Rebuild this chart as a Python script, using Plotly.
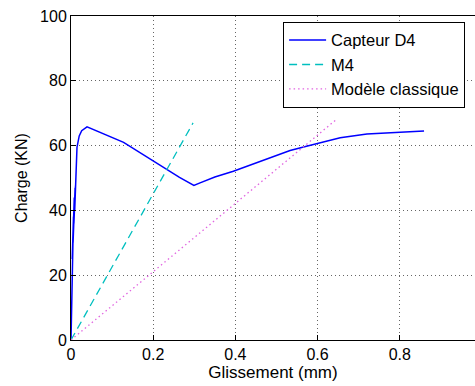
import plotly.graph_objects as go

# Capteur D4 (measured)
capteur_x = [0, 0.002, 0.001, 0.004, 0.002, 0.006, 0.003, 0.008, 0.005, 0.010, 0.007,
             0.011, 0.009, 0.012, 0.0146, 0.02, 0.026, 0.039, 0.128, 0.264, 0.299,
             0.314, 0.35, 0.395, 0.45, 0.533, 0.573, 0.62, 0.655, 0.72, 0.8, 0.859]
capteur_y = [0, 15, 8, 28, 18, 38, 25, 44, 30, 47, 36,
             47.7, 40, 52, 59.5, 63, 64.6, 65.8, 61.0, 50.2, 47.7,
             48.5, 50.3, 52.1, 54.6, 58.5, 59.8, 61.4, 62.4, 63.6, 64.1, 64.5]

# M4 model
m4_x = [0, 0.297]
m4_y = [0, 67]

# Modèle classique
classique_x = [0, 0.647]
classique_y = [0, 68.2]

x_ticks = [0, 0.2, 0.4, 0.6, 0.8]
y_ticks = [0, 20, 40, 60, 80, 100]

FONT = "Liberation Sans, Arial, sans-serif"

fig = go.Figure()
fig.add_trace(go.Scatter(x=capteur_x, y=capteur_y, mode="lines", name="Capteur D4",
                         line=dict(color="#0000ff", width=1.5)))
fig.add_trace(go.Scatter(x=m4_x, y=m4_y, mode="lines", name="M4",
                         line=dict(color="rgb(0,191,191)", width=1.3, dash="8px,5px")))
fig.add_trace(go.Scatter(x=classique_x, y=classique_y, mode="lines", name="Modèle classique",
                         line=dict(color="rgb(225,100,225)", width=1.3, dash="1.5px,3px")))

fig.update_layout(
    width=475, height=386,
    margin=dict(l=71, r=0, t=16, b=46, autoexpand=False),
    paper_bgcolor="white", plot_bgcolor="white",
    font=dict(family=FONT, size=16, color="black"),
    showlegend=True,
    legend=dict(x=0.525, y=0.982, xanchor="left", yanchor="top",
                bgcolor="white", bordercolor="black", borderwidth=1,
                font=dict(family=FONT, size=16.5), itemwidth=37,
                tracegroupgap=0),
    xaxis=dict(range=[0, 0.983], tickvals=x_ticks, ticktext=["0", "0.2", "0.4", "0.6", "0.8"],
               showline=True, linecolor="black", linewidth=1, mirror=True,
               ticks="inside", ticklen=5, tickcolor="black",
               showgrid=True, gridcolor="#666", griddash="1px,3px", gridwidth=1,
               zeroline=False, automargin=False,
               title=dict(text="Glissement (mm)", standoff=2, font=dict(size=17))),
    yaxis=dict(range=[0, 100], tickvals=y_ticks,
               showline=True, linecolor="black", linewidth=1, mirror=False,
               ticks="inside", ticklen=5, tickcolor="black",
               showgrid=True, gridcolor="#666", griddash="1px,3px", gridwidth=1,
               zeroline=False, automargin=False,
               title=dict(text="Charge (KN)", standoff=8, font=dict(size=16))),
)

fig.write_html("out.html", config={"displayModeBar": False},
               post_script="document.body.style.margin='0';document.body.style.overflow='hidden';")
